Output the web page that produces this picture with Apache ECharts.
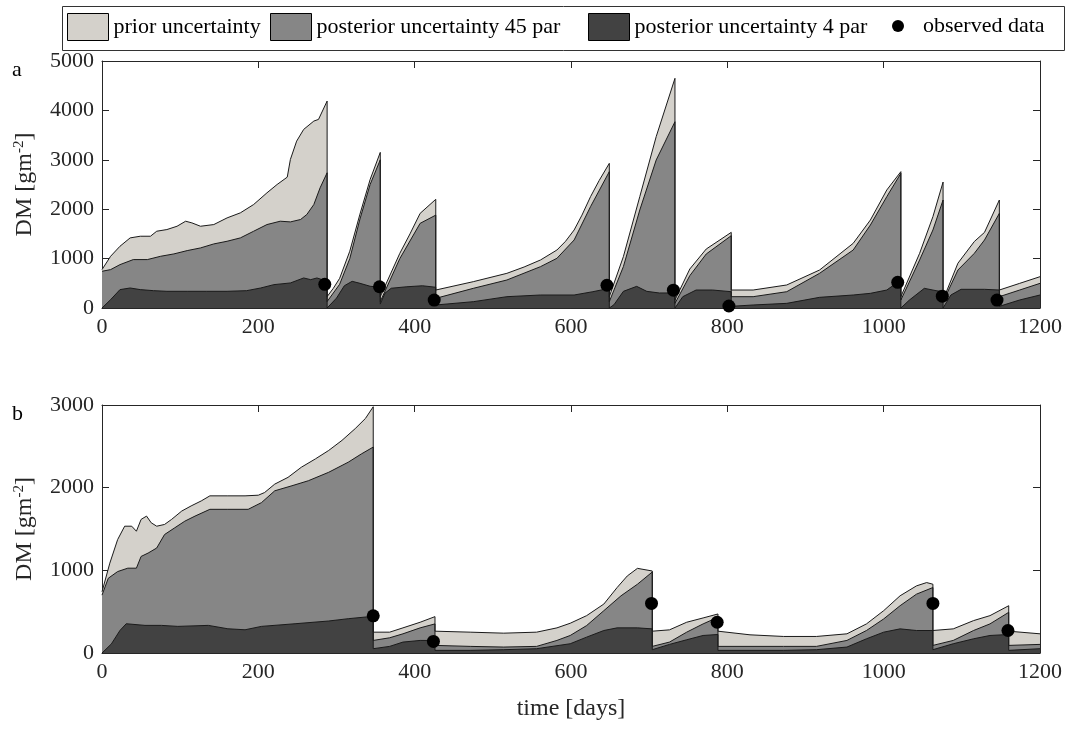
<!DOCTYPE html>
<html>
<head>
<meta charset="utf-8">
<script src="https://cdn.jsdelivr.net/npm/echarts@6/dist/echarts.min.js"></script>
<style>
  html, body { margin: 0; padding: 0; background: #fff; }
  #chart { width: 1072px; height: 729px; }
</style>
</head>
<body>
<div id="chart"></div>
<script>
// panel a: [day, DM] pairs, each drop repeats the day
const aPrior = [
  [0, 777], [11, 1047], [23, 1250], [36, 1419], [49, 1453], [62, 1453], [70, 1554], [83, 1588], [96, 1655],
  [107, 1757], [115, 1723], [126, 1655], [143, 1689], [160, 1824], [177, 1926], [194, 2095], [211, 2331],
  [224, 2500], [237, 2649], [241, 3007], [249, 3378], [258, 3615], [271, 3784], [277, 3818], [288, 4189],
  [288, 230], [296, 400], [304, 600], [317, 1150], [330, 1900], [343, 2600], [356, 3150],
  [356, 230], [381, 1107], [394, 1500], [407, 1916], [427, 2200],
  [427, 364], [475, 533], [518, 702], [540, 830], [561, 972], [582, 1174], [593, 1350], [604, 1579],
  [614, 1880], [625, 2254], [636, 2580], [649, 2928],
  [649, 229], [667, 1039], [688, 2254], [709, 3469], [733, 4649],
  [733, 162], [752, 790], [773, 1194], [805, 1531],
  [805, 364], [833, 364], [876, 466], [918, 769], [961, 1309], [983, 1781], [1004, 2389], [1022, 2760],
  [1022, 229], [1046, 1107], [1063, 1849], [1076, 2550],
  [1076, 162], [1095, 907], [1116, 1346], [1129, 1531], [1148, 2186],
  [1148, 364], [1174, 499], [1200, 634]
]
const aPost45 = [
  [0, 743], [11, 777], [23, 878], [40, 980], [58, 980], [75, 1047], [92, 1095], [109, 1162], [126, 1216],
  [143, 1297], [160, 1351], [177, 1419], [194, 1554], [211, 1689], [228, 1757], [241, 1743], [254, 1791],
  [262, 1892], [271, 2095], [279, 2432], [288, 2737],
  [288, 130], [304, 480], [317, 1000], [330, 1800], [343, 2500], [356, 3000],
  [356, 130], [381, 1000], [407, 1714], [427, 1880],
  [427, 196], [475, 398], [518, 567], [561, 837], [582, 1006], [604, 1377], [625, 2052], [649, 2760],
  [649, 128], [667, 837], [688, 1984], [709, 2996], [733, 3770],
  [733, 94], [752, 655], [773, 1093], [805, 1464],
  [805, 229], [833, 229], [876, 330], [918, 702], [961, 1174], [983, 1680], [1004, 2254], [1022, 2726],
  [1022, 162], [1046, 972], [1063, 1579], [1076, 2186],
  [1076, 128], [1095, 769], [1116, 1107], [1129, 1377], [1148, 1916],
  [1148, 229], [1174, 364], [1200, 499]
]
const aPost4 = [
  [0, 0], [11, 169], [23, 372], [36, 405], [49, 372], [66, 351], [83, 338], [109, 338], [134, 338],
  [160, 338], [185, 351], [203, 405], [220, 473], [241, 507], [258, 608], [267, 574], [275, 608], [288, 540],
  [288, 0], [300, 200], [310, 450], [320, 540], [330, 500], [343, 440], [356, 420],
  [356, 80], [362, 300], [370, 400], [390, 430], [410, 450], [427, 420],
  [427, 61], [475, 128], [518, 229], [561, 263], [604, 263], [628, 330], [649, 398],
  [649, 0], [655, 67], [667, 337], [684, 438], [697, 337], [713, 304], [733, 304],
  [733, 0], [743, 229], [760, 364], [781, 364], [805, 330],
  [805, 34], [833, 61], [876, 94], [918, 216], [961, 263], [983, 297], [1004, 364], [1022, 567],
  [1022, 0], [1033, 162], [1052, 398], [1067, 351], [1076, 330],
  [1076, 0], [1086, 263], [1099, 378], [1129, 378], [1148, 364],
  [1148, 34], [1174, 162], [1200, 263]
]
const aObs = [[285, 480], [355, 430], [425, 160], [646, 460], [731, 360], [802, 40], [1018, 520], [1075, 240], [1145, 160]]

// panel b
const bPrior = [
  [0, 740], [10, 1087], [20, 1372], [29, 1534], [38, 1534], [44, 1473], [50, 1616], [57, 1656], [63, 1575],
  [70, 1534], [80, 1555], [89, 1616], [102, 1717], [114, 1779], [127, 1840], [138, 1901], [161, 1901],
  [183, 1901], [200, 1909], [208, 1941], [221, 2043], [238, 2125], [255, 2247], [273, 2348], [290, 2450],
  [307, 2572], [324, 2715], [337, 2837], [347, 2979],
  [347, 252], [368, 252], [385, 304], [407, 372], [426, 440],
  [426, 264], [471, 252], [514, 240], [556, 252], [582, 304], [599, 360], [620, 452], [642, 592], [659, 792],
  [672, 932], [685, 1024], [704, 992],
  [704, 264], [726, 280], [748, 372], [769, 424], [788, 472],
  [788, 264], [829, 220], [872, 200], [914, 200], [953, 232], [978, 352], [1000, 512], [1021, 692],
  [1042, 812], [1055, 852], [1063, 832],
  [1063, 272], [1089, 292], [1115, 392], [1136, 452], [1160, 572],
  [1160, 264], [1200, 232]
]
const bPost45 = [
  [0, 700], [8, 904], [20, 985], [33, 1026], [44, 1026], [50, 1168], [59, 1209], [70, 1270], [80, 1433],
  [93, 1514], [106, 1595], [119, 1656], [138, 1738], [161, 1738], [187, 1738], [204, 1819], [221, 1962],
  [243, 2023], [264, 2084], [290, 2186], [315, 2308], [332, 2409], [347, 2491],
  [347, 152], [368, 184], [385, 232], [407, 304], [426, 352],
  [426, 92], [471, 80], [514, 72], [556, 80], [582, 152], [599, 212], [620, 332], [642, 512], [664, 692],
  [685, 832], [704, 980],
  [704, 80], [726, 132], [748, 252], [769, 352], [788, 432],
  [788, 80], [829, 80], [872, 80], [914, 80], [953, 152], [978, 272], [1000, 412], [1021, 572],
  [1042, 712], [1063, 792],
  [1063, 92], [1089, 152], [1115, 272], [1136, 352], [1160, 492],
  [1160, 92], [1200, 104]
]
const bPost4 = [
  [0, 0], [12, 110], [23, 273], [31, 354], [55, 334], [76, 334], [97, 322], [136, 334], [161, 293],
  [183, 281], [204, 322], [247, 354], [290, 387], [315, 415], [347, 444],
  [347, 52], [368, 80], [385, 132], [407, 152], [426, 152],
  [426, 32], [471, 32], [514, 40], [556, 52], [599, 112], [620, 192], [642, 272], [659, 304], [685, 304], [704, 292],
  [704, 40], [726, 104], [748, 160], [769, 212], [788, 224],
  [788, 32], [872, 32], [914, 40], [953, 72], [978, 172], [1000, 252], [1021, 292], [1042, 272], [1063, 272],
  [1063, 40], [1089, 112], [1115, 172], [1136, 212], [1160, 224],
  [1160, 32], [1200, 52]
]
const bObs = [[347, 450], [424, 140], [703, 600], [787, 372], [1063, 600], [1159, 272]]

const xTicks = [0, 200, 400, 600, 800, 1000, 1200]
const aYMax = 5000
const bYMax = 3000

const FONT = 'Liberation Serif'
const INK = '#262626'
const C_PRIOR = '#d4d1cb'
const C_POST45 = '#868686'
const C_POST4 = '#424242'

const chart = echarts.init(document.getElementById('chart'), null, { renderer: 'canvas' })

// plain numbers, no thousands separator
const plain = (v) => String(v)

function xAxisPair (grid, showName) {
  return [
    {
      gridIndex: grid, type: 'value', min: xTicks[0], max: xTicks[xTicks.length - 1], interval: 200,
      axisLine: { onZero: false, lineStyle: { color: INK, width: 1 } },
      axisTick: { inside: true, length: 7, lineStyle: { color: INK } },
      axisLabel: { fontFamily: FONT, fontSize: 22, color: INK, margin: 8, formatter: plain },
      splitLine: { show: false },
      name: showName ? 'time [days]' : '',
      nameLocation: 'middle', nameGap: 44,
      nameTextStyle: { fontFamily: FONT, fontSize: 24, color: INK }
    },
    {
      gridIndex: grid, type: 'value', position: 'top', min: xTicks[0], max: xTicks[xTicks.length - 1], interval: 200,
      axisLine: { onZero: false, lineStyle: { color: INK, width: 1 } },
      axisTick: { inside: true, length: 7, lineStyle: { color: INK } },
      axisLabel: { show: false },
      splitLine: { show: false }
    }
  ]
}

function yAxisPair (grid, max) {
  return [
    {
      gridIndex: grid, type: 'value', min: 0, max: max, interval: 1000,
      axisLine: { show: true, onZero: false, lineStyle: { color: INK, width: 1 } },
      axisTick: { show: true, inside: true, length: 7, lineStyle: { color: INK } },
      axisLabel: { fontFamily: FONT, fontSize: 22, color: INK, margin: 8, formatter: plain },
      splitLine: { show: false },
      name: 'DM [gm{sup|-2}]',
      nameLocation: 'middle', nameGap: 55,
      nameTextStyle: {
        fontFamily: FONT, fontSize: 24, color: INK, lineHeight: 28,
        rich: { sup: { fontFamily: FONT, fontSize: 15, color: INK, lineHeight: 15, verticalAlign: 'top' } }
      }
    },
    {
      gridIndex: grid, type: 'value', position: 'right', min: 0, max: max, interval: 1000,
      axisLine: { show: true, onZero: false, lineStyle: { color: INK, width: 1 } },
      axisTick: { show: true, inside: true, length: 7, lineStyle: { color: INK } },
      axisLabel: { show: false },
      splitLine: { show: false }
    }
  ]
}

function band (name, data, color, xi, yi) {
  return {
    name: name, type: 'line', xAxisIndex: xi, yAxisIndex: yi,
    data: data, symbol: 'none', smooth: false,
    color: color,
    lineStyle: { color: '#1a1a1a', width: 1 },
    areaStyle: { color: color, opacity: 1 },
    emphasis: { disabled: true }
  }
}

function dots (data, xi, yi) {
  return {
    name: 'observed data', type: 'scatter', xAxisIndex: xi, yAxisIndex: yi,
    data: data, symbolSize: 13, z: 5,
    itemStyle: { color: '#000', opacity: 1 },
    emphasis: { disabled: true }
  }
}

// one legend per entry so each sits where the reference puts it
function legendItem (left, top, name, icon, color, w, h) {
  return {
    left: left, top: top, padding: 0, itemWidth: w, itemHeight: h,
    textStyle: { fontFamily: FONT, fontSize: 22, color: '#000' },
    data: [{ name: name, icon: icon, itemStyle: color ? { color: color, borderColor: '#000', borderWidth: 1 } : { color: '#000', opacity: 1 } }],
    selectedMode: false
  }
}

const option = {
  animation: false,
  backgroundColor: '#fff',
  grid: [
    { left: 102, top: 61, width: 938, height: 247 },
    { left: 102, top: 405, width: 938, height: 248 }
  ],
  xAxis: xAxisPair(0, false).concat(xAxisPair(1, true)),
  yAxis: yAxisPair(0, aYMax).concat(yAxisPair(1, bYMax)),
  legend: [
    legendItem(67, 13, 'prior uncertainty', 'rect', C_PRIOR, 41, 27),
    legendItem(270, 13, 'posterior uncertainty 45 par', 'rect', C_POST45, 41, 27),
    legendItem(588, 13, 'posterior uncertainty 4 par', 'rect', C_POST4, 41, 27),
    legendItem(892, 15, 'observed data', 'circle', null, 40, 12)
  ],
  graphic: [
    {
      type: 'rect', left: 62, top: 6, z: -1,
      shape: { width: 1002, height: 44 },
      style: { fill: '#fff', stroke: '#333', lineWidth: 1 }
    },
    { type: 'text', left: 12, top: 59, style: { text: 'a', font: '22px "Liberation Serif"', fill: '#000' } },
    { type: 'text', left: 12, top: 403, style: { text: 'b', font: '22px "Liberation Serif"', fill: '#000' } }
  ],
  series: [
    band('prior uncertainty', aPrior, C_PRIOR, 0, 0),
    band('posterior uncertainty 45 par', aPost45, C_POST45, 0, 0),
    band('posterior uncertainty 4 par', aPost4, C_POST4, 0, 0),
    dots(aObs, 0, 0),
    band('prior uncertainty', bPrior, C_PRIOR, 2, 2),
    band('posterior uncertainty 45 par', bPost45, C_POST45, 2, 2),
    band('posterior uncertainty 4 par', bPost4, C_POST4, 2, 2),
    dots(bObs, 2, 2)
  ]
}

chart.setOption(option)
</script>
</body>
</html>
